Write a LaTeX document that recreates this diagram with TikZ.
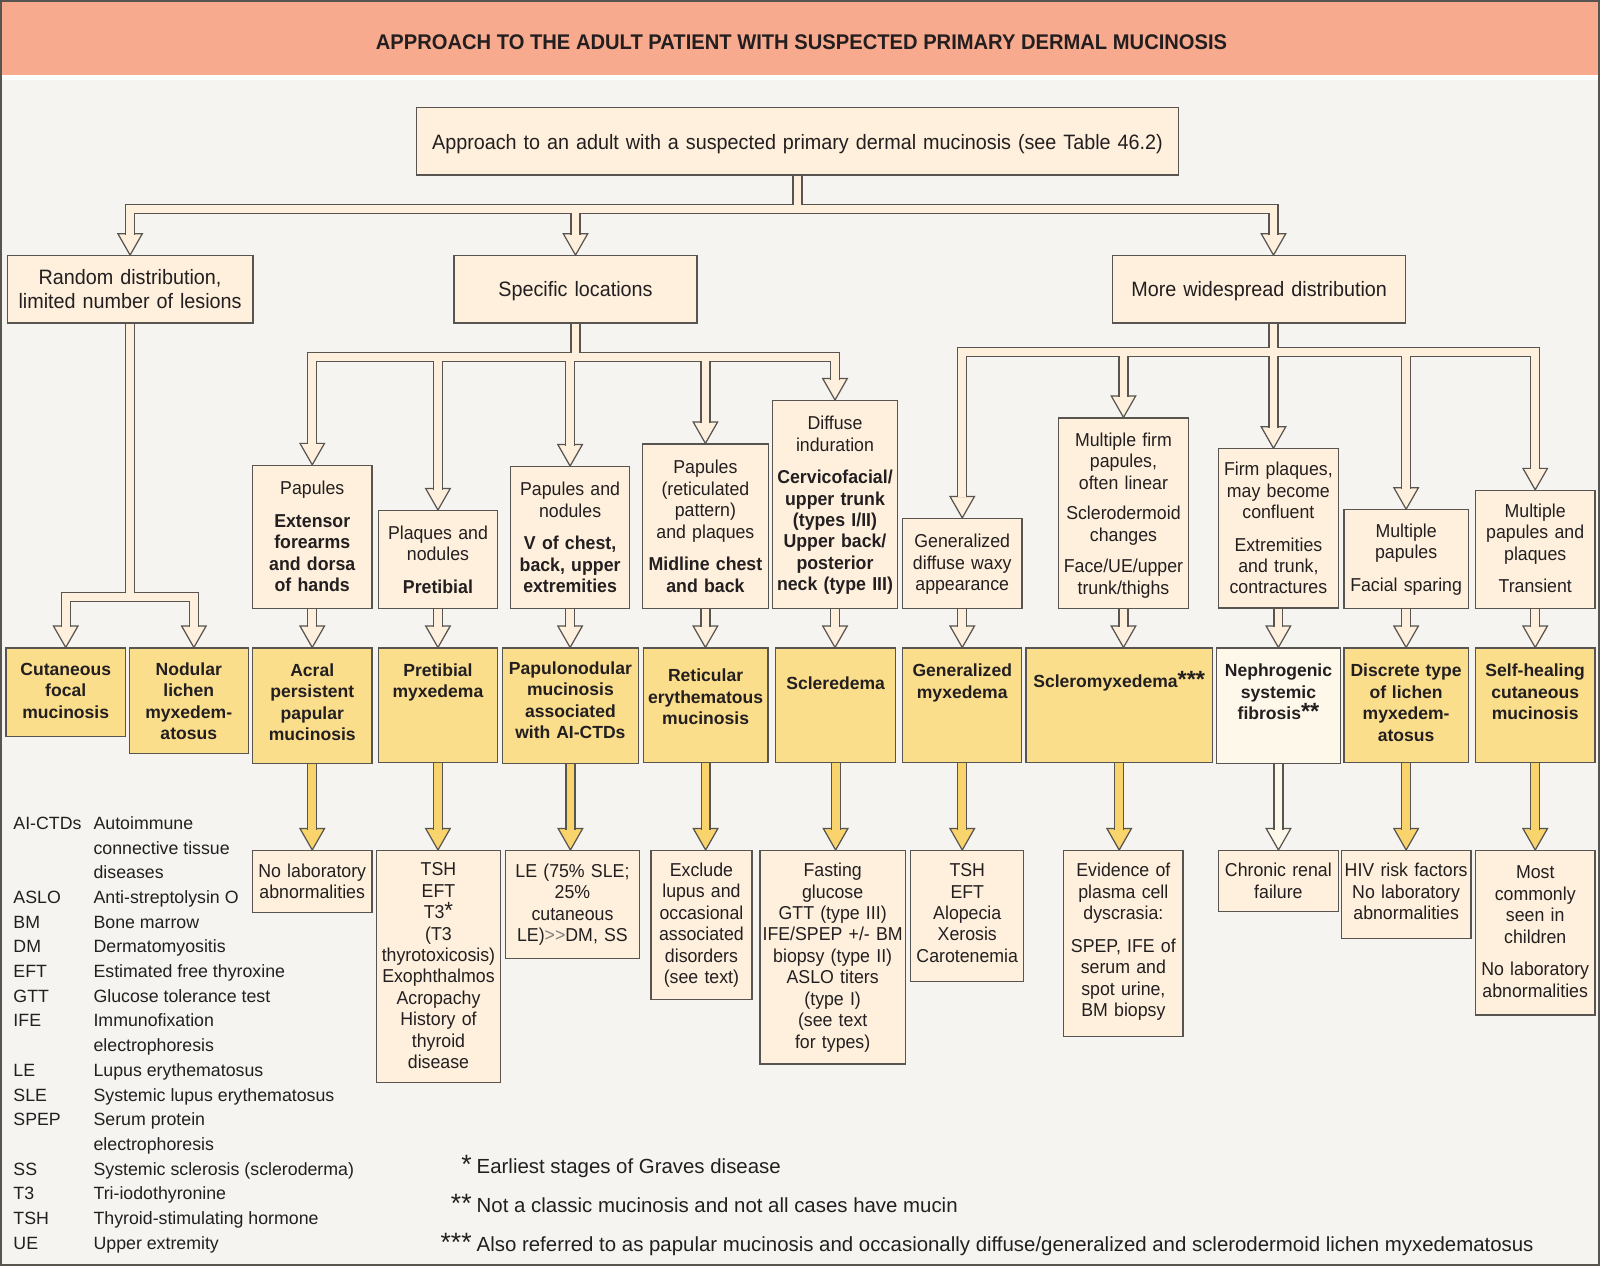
\documentclass[tikz,border=0pt]{standalone}
\usepackage{fontspec}
\setmainfont{Liberation Sans}
\newfontfamily\condfont{Liberation Sans}[FakeStretch=0.95]
\usetikzlibrary{calc}
\usetikzlibrary{math}
\pgfdeclarelayer{background}
\pgfdeclarelayer{background2}
\pgfsetlayers{background2,background,main}
\newcommand{\astx}[2][23]{{\fontsize{#1}{0}\selectfont#2}}

\begin{document}
\begin{tikzpicture}[x=1pt, y=-1pt]
    \definecolor{band}{RGB}{247, 170, 141}
    \definecolor{paper}{RGB}{245, 244, 240}
    \definecolor{cream}{RGB}{254, 240, 220}
    \definecolor{gold}{RGB}{251, 222, 140}
    \definecolor{goldarrow}{RGB}{249, 212, 108}
    \definecolor{pale}{RGB}{254, 248, 235}
    \definecolor{rule}{RGB}{88, 84, 80}
    \definecolor{ink}{RGB}{35, 31, 32}

    \tikzmath {
        \picW = 1568;
        \picH = 1241;
        \busTop = 205;
        \busSpec = 350;
        \busWide = 345;
        \busRand = 585;
        \tipLen = 21;
        \tipHalf = 12;
        \shaftEnd = 20;
    }

    \tikzset{
        box/.style={draw=rule, line width=1.2pt, anchor=north, align=center, inner xsep=0pt, inner ysep=3pt, text=ink},
        boxsize/.style n args={3}{text width=#1pt, text height=#3pt, text depth={#2pt-#3pt-6pt}},
        lvl/.style={box, fill=cream, font=\condfont\fontsize{20.4}{24}\selectfont},
        desc/.style={box, fill=cream, font=\condfont\fontsize{18.3}{21}\selectfont},
        dx/.style={box, fill=gold, font=\bfseries\fontsize{17.2}{21}\selectfont},
        res/.style={box, fill=cream, font=\condfont\fontsize{18.3}{21}\selectfont},
        chan/.style={draw=rule, line width=1.2pt, double=#1, double distance=7.6pt, line join=miter},
        chan/.default=cream,
        head/.style={draw=rule, line width=1.2pt, fill=#1, line join=miter},
        head/.default=cream,
        foot/.style={anchor=base west, inner sep=0pt, text=ink, font=\fontsize{20}{24}\selectfont},
    }

    \useasboundingbox (0,0) rectangle (\picW,\picH);

    \begin{pgfonlayer}{background2}
        \fill[paper] (0,0) rectangle (\picW,\picH);
        \fill[white] (0,73.5) rectangle (\picW,78.5);
        \fill[band] (0,0) rectangle (\picW,73.5);
        \draw[rule, line width=2pt] (1,1) rectangle (\picW-1,\picH-1);
    \end{pgfonlayer}

    \node[text=ink, font=\condfont\bfseries\fontsize{20.8}{24}\selectfont] (title) at (785.5,41)
        {APPROACH TO THE ADULT PATIENT WITH SUSPECTED PRIMARY DERMAL MUCINOSIS};

    % first split
    \node[lvl, boxsize={747}{66}{38}] (top_box) at (781.5,105)
        {Approach to an adult with a suspected primary dermal mucinosis (see Table 46.2)};
    \node[lvl, boxsize={241}{66}{25}] (rand_box) at (127.5,250) {Random distribution,\\limited number of lesions};
    \node[lvl, boxsize={238}{66}{37.3}] (spec_box) at (564,250) {Specific locations};
    \node[lvl, boxsize={287}{66}{37.3}] (wide_box) at (1234,250) {More widespread distribution};

    \coordinate (wide_tip) at ([xshift=14pt]wide_box.north);
    \coordinate (wide_out) at ([xshift=14pt]wide_box.south);

    % clinical findings
    \node[desc, boxsize={117}{140}{25.7}] (pap_desc) at (306,455.5)
        {Papules\\[11pt]{\bfseries Extensor\\forearms\\and dorsa\\of hands}};
    \node[desc, boxsize={117}{96}{25.1}] (plq_desc) at (429.2,499.8)
        {Plaques and\\nodules\\[11pt]{\bfseries Pretibial}};
    \node[desc, boxsize={117}{139}{25.4}] (pnod_desc) at (558.7,456.7)
        {Papules and\\nodules\\[11pt]{\bfseries V of chest,\\back, upper\\extremities}};
    \node[desc, boxsize={123}{161}{26.3}] (ret_desc) at (691.3,434.5)
        {Papules\\(reticulated\\pattern)\\and plaques\\[11pt]{\bfseries Midline chest\\and back}};
    \node[desc, boxsize={123}{203.5}{25.4}] (diff_desc) at (818.3,392)
        {Diffuse\\induration\\[11pt]{\bfseries Cervicofacial/\\upper trunk\\(types I/II)\\Upper back/\\posterior\\neck (type III)}};
    \node[desc, boxsize={117}{88}{25.9}] (gen_desc) at (943,507.5)
        {Generalized\\diffuse waxy\\appearance};
    \node[desc, boxsize={128}{186.5}{24.7}] (firmp_desc) at (1101,409)
        {Multiple firm\\papules,\\often linear\\[9pt]Sclerodermoid\\changes\\[10pt]Face/UE/upper\\trunk/thighs};
    \node[desc, boxsize={117.5}{156}{23.2}] (firmpl_desc) at (1252.8,439.3)
        {Firm plaques,\\may become\\confluent\\[11pt]Extremities\\and trunk,\\contractures};
    \node[desc, boxsize={122}{96.5}{24.1}] (mpap_desc) at (1378,499)
        {Multiple\\papules\\[11pt]Facial sparing};
    \node[desc, boxsize={117}{115.5}{23.5}] (mpp_desc) at (1504.5,480)
        {Multiple\\papules and\\plaques\\[11pt]Transient};

    \coordinate (firmpl_tip) at (firmpl_desc.north -| wide_tip);

    % diagnoses
    \node[dx, boxsize={117}{86.3}{23.9}] (cut_dx) at (64.4,634.5) {Cutaneous\\focal\\mucinosis};
    \node[dx, boxsize={116.7}{103.6}{23.9}] (nod_dx) at (185,634.5) {Nodular\\lichen\\myxedem-\\atosus};
    \node[dx, boxsize={117}{113}{24.7}] (acral_dx) at (306,634.5) {Acral\\persistent\\papular\\mucinosis};
    \node[dx, boxsize={117}{112}{24.7}] (pmyx_dx) at (429.2,634.5) {Pretibial\\myxedema};
    \node[dx, boxsize={133}{113.5}{22.7}] (pnm_dx) at (559,634.5) {Papulonodular\\mucinosis\\associated\\with AI-CTDs};
    \node[dx, boxsize={122.4}{112}{30.2}] (rem_dx) at (691.5,634.5) {Reticular\\erythematous\\mucinosis};
    \node[dx, boxsize={117.3}{112}{37.4}] (scd_dx) at (818.9,634.5) {Scleredema};
    \node[dx, boxsize={116.5}{112}{25.3}] (gmyx_dx) at (943,634.5) {Generalized\\myxedema};
    \node[dx, boxsize={182.5}{112}{35.7}] (smyx_dx) at (1096.8,634.5) {Scleromyxedema\astx{***}};
    \node[dx, fill=pale, boxsize={121.7}{113.5}{25.3}] (nsf_dx) at (1252.9,634.5) {Nephrogenic\\systemic\\fibrosis\astx{**}};
    \node[dx, boxsize={122}{112}{25.3}] (dlm_dx) at (1378,634.5) {Discrete type\\of lichen\\myxedem-\\atosus};
    \node[dx, boxsize={117}{112}{25.3}] (shcm_dx) at (1504.5,634.5) {Self-healing\\cutaneous\\mucinosis};

    \coordinate (nod_tip) at ([xshift=5pt]nod_dx.north);

    % work-up
    \node[res, boxsize={117}{60.5}{22.9}] (nolab_res) at (306,833) {No laboratory\\abnormalities};
    \node[res, boxsize={121.7}{227.5}{21.6}] (thy_res) at (429.7,833)
        {TSH\\EFT\\T3\astx{*}\\(T3\\thyrotoxicosis)\\Exophthalmos\\Acropachy\\History of\\thyroid\\disease};
    \node[res, boxsize={131}{106}{23.1}] (le_res) at (561,833)
        {LE (75\% SLE;\\25\%\\cutaneous\\LE)\textcolor{gray}{>>}DM, SS};
    \node[res, boxsize={99}{146}{22.4}] (excl_res) at (687.4,833)
        {Exclude\\lupus and\\occasional\\associated\\disorders\\(see text)};
    \node[res, boxsize={142.5}{209}{22.5}] (fast_res) at (816,833)
        {Fasting\\glucose\\GTT (type III)\\IFE/SPEP +/- BM\\biopsy (type II)\\ASLO titers\\(type I)\\(see text\\for types)};
    \node[res, boxsize={110.6}{128}{22.5}] (tea_res) at (947.9,833) {TSH\\EFT\\Alopecia\\Xerosis\\Carotenemia};
    \node[res, boxsize={117}{182}{22.5}] (evid_res) at (1100.9,833)
        {Evidence of\\plasma cell\\dyscrasia:\\[11pt]SPEP, IFE of\\serum and\\spot urine,\\BM biopsy};
    \node[res, boxsize={117.5}{60}{22.5}] (crf_res) at (1252.8,833) {Chronic renal\\failure};
    \node[res, boxsize={127}{86}{22.5}] (hiv_res) at (1378,833) {HIV risk factors\\No laboratory\\abnormalities};
    \node[res, boxsize={117}{161}{24.8}] (most_res) at (1504.5,833)
        {Most\\commonly\\seen in\\children\\[11pt]No laboratory\\abnormalities};

    % abbreviations
    \node[anchor=base west, inner sep=0pt, text=ink, font=\fontsize{17.4}{24.2}\selectfont] (abbrevs) at (13,812.8) {%
        \begin{tabular}[t]{@{}p{78.5pt}@{}l@{}}
            AI-CTDs & Autoimmune \\
                    & connective tissue \\
                    & diseases \\
            ASLO & Anti-streptolysin O \\
            BM & Bone marrow \\
            DM & Dermatomyositis \\
            EFT & Estimated free thyroxine \\
            GTT & Glucose tolerance test \\
            IFE & Immunofixation \\
                & electrophoresis \\
            LE & Lupus erythematosus \\
            SLE & Systemic lupus erythematosus \\
            SPEP & Serum protein \\
                 & electrophoresis \\
            SS & Systemic sclerosis (scleroderma) \\
            T3 & Tri-iodothyronine \\
            TSH & Thyroid-stimulating hormone \\
            UE & Upper extremity
        \end{tabular}};

    % footnotes
    \node[foot] (note_one) at (467,1150.2) {\llap{\astx[26]{*}\hspace{5pt}}Earliest stages of Graves disease};
    \node[foot] (note_two) at (467,1188.2) {\llap{\astx[26]{**}\hspace{5pt}}Not a classic mucinosis and not all cases have mucin};
    \node[foot] (note_three) at (467,1226.2) {\llap{\astx[26]{***}\hspace{5pt}}Also referred to as papular mucinosis and occasionally diffuse/generalized and sclerodermoid lichen myxedematosus};

    \coordinate (bus_top) at (0,\busTop);
    \coordinate (bus_spec) at (0,\busSpec);
    \coordinate (bus_wide) at (0,\busWide);
    \coordinate (bus_rand) at (0,\busRand);

    \def\stepPairs{pap_desc/acral_dx, plq_desc/pmyx_dx, pnod_desc/pnm_dx, ret_desc/rem_dx, diff_desc/scd_dx,
        gen_desc/gmyx_dx, firmp_desc/smyx_dx, firmpl_desc/nsf_dx, mpap_desc/dlm_dx, mpp_desc/shcm_dx}
    \def\testPairs{acral_dx/nolab_res, pmyx_dx/thy_res, pnm_dx/le_res, rem_dx/excl_res, scd_dx/fast_res,
        gmyx_dx/tea_res, smyx_dx/evid_res, dlm_dx/hiv_res, shcm_dx/most_res}

    \begin{pgfonlayer}{background}
        % arrow heads
        \foreach \t in {rand_box.north, spec_box.north, wide_tip, cut_dx.north, nod_tip,
            pap_desc.north, plq_desc.north, pnod_desc.north, ret_desc.north, diff_desc.north,
            gen_desc.north, firmp_desc.north, firmpl_tip, mpap_desc.north, mpp_desc.north}
            \draw[head] (\t) -- ++(-\tipHalf,-\tipLen) -- ++(2*\tipHalf,0) -- cycle;
        \foreach \d/\o in \stepPairs
            \draw[head] (\o.north -| \d.south) -- ++(-\tipHalf,-\tipLen) -- ++(2*\tipHalf,0) -- cycle;
        \foreach \o/\r in \testPairs
            \draw[head=goldarrow] (\r.north -| \o.south) -- ++(-\tipHalf,-\tipLen) -- ++(2*\tipHalf,0) -- cycle;
        \draw[head=pale] (crf_res.north -| nsf_dx.south) -- ++(-\tipHalf,-\tipLen) -- ++(2*\tipHalf,0) -- cycle;

        % branching channels
        \draw[chan] (top_box.south) -- (top_box.south |- bus_top)
            ($(rand_box.north)+(0,-\shaftEnd)$) -- (rand_box.north |- bus_top) -- (wide_tip |- bus_top) -- ($(wide_tip)+(0,-\shaftEnd)$)
            (spec_box.north |- bus_top) -- ($(spec_box.north)+(0,-\shaftEnd)$);
        \draw[chan] (rand_box.south) -- (rand_box.south |- bus_rand)
            ($(cut_dx.north)+(0,-\shaftEnd)$) -- (cut_dx.north |- bus_rand) -- (nod_tip |- bus_rand) -- ($(nod_tip)+(0,-\shaftEnd)$);
        \draw[chan] (spec_box.south) -- (spec_box.south |- bus_spec)
            ($(pap_desc.north)+(0,-\shaftEnd)$) -- (pap_desc.north |- bus_spec) -- (diff_desc.north |- bus_spec) -- ($(diff_desc.north)+(0,-\shaftEnd)$)
            foreach \n in {plq_desc, pnod_desc, ret_desc} { (\n.north |- bus_spec) -- ($(\n.north)+(0,-\shaftEnd)$) };
        \draw[chan] (wide_out) -- (wide_out |- bus_wide)
            ($(gen_desc.north)+(0,-\shaftEnd)$) -- (gen_desc.north |- bus_wide) -- (mpp_desc.north |- bus_wide) -- ($(mpp_desc.north)+(0,-\shaftEnd)$)
            foreach \n in {firmp_desc.north, firmpl_tip, mpap_desc.north} { (\n |- bus_wide) -- ($(\n)+(0,-\shaftEnd)$) };

        % findings to diagnoses, diagnoses to work-up
        \draw[chan] foreach \d/\o in \stepPairs { (\d.south) -- ($(\o.north -| \d.south)+(0,-\shaftEnd)$) };
        \draw[chan=goldarrow] foreach \o/\r in \testPairs { (\o.south) -- ($(\r.north -| \o.south)+(0,-\shaftEnd)$) };
        \draw[chan=pale] (nsf_dx.south) -- ($(crf_res.north -| nsf_dx.south)+(0,-\shaftEnd)$);
    \end{pgfonlayer}
\end{tikzpicture}
\end{document}
